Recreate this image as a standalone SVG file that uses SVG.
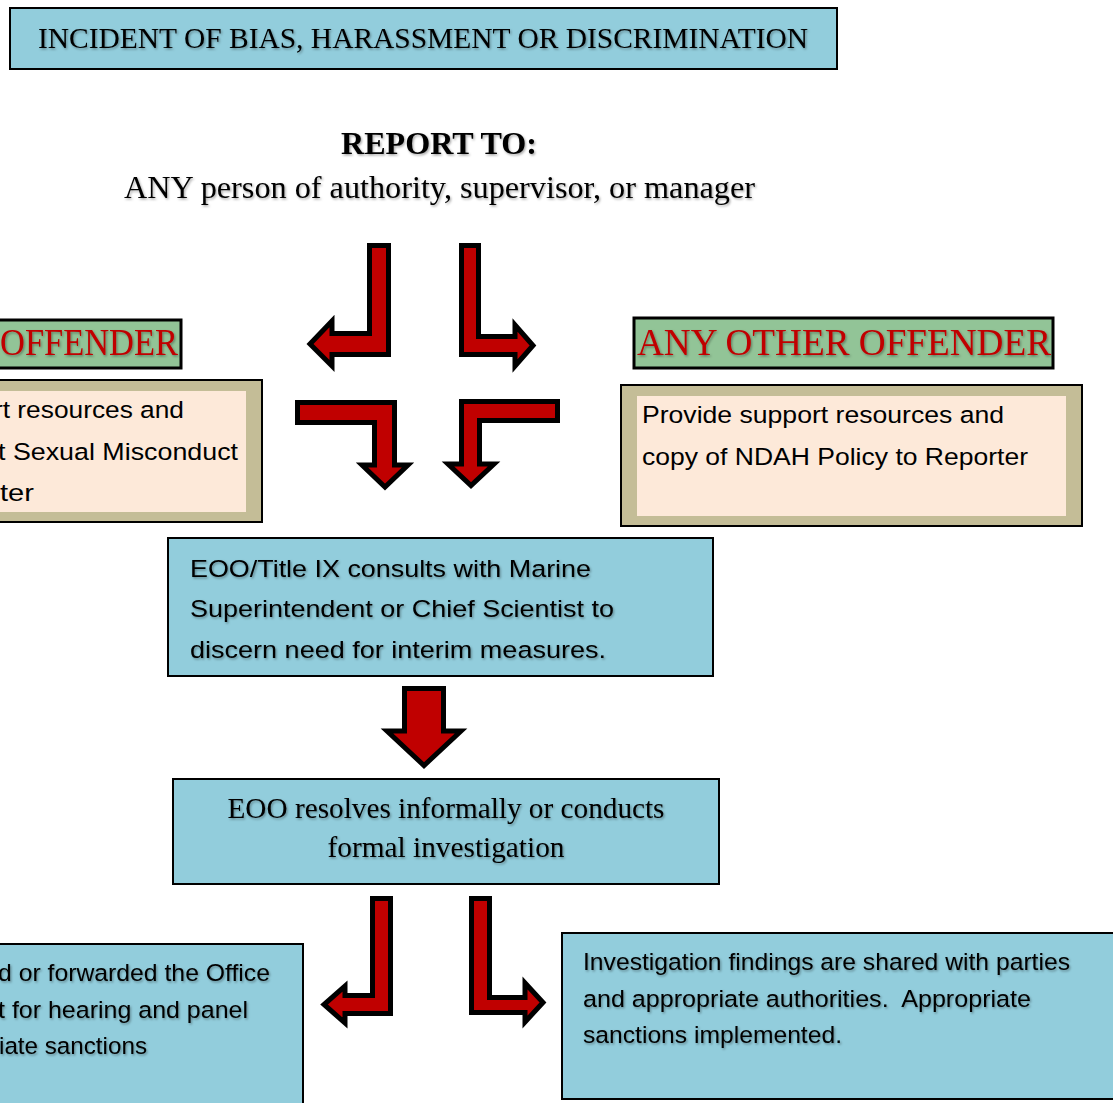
<svg xmlns="http://www.w3.org/2000/svg" width="1113" height="1103" viewBox="0 0 1113 1103">
<defs>
<filter id="ts" x="-5%" y="-20%" width="110%" height="140%">
<feDropShadow dx="1.2" dy="1.5" stdDeviation="1" flood-color="#000" flood-opacity="0.35"/>
</filter>
</defs>
<style>
.blue{fill:#92cddc;stroke:#000;stroke-width:2}
.green{fill:#92c497;stroke:#000;stroke-width:3}
.tan{fill:#c4bd97;stroke:#000;stroke-width:2}
.pink{fill:#fde9d9}
.arr{fill:#c00000;stroke:#000;stroke-width:5;stroke-linejoin:miter}
.serif{font-family:"Liberation Serif","Times New Roman",serif;fill:#000}
.sans{font-family:"Liberation Sans",Arial,sans-serif;font-size:24.5px;fill:#000}
.red{fill:#c00000;font-size:37px}
.sh{filter:url(#ts)}
</style>
<rect width="1113" height="1103" fill="#fff"/>

<g id="title">
<rect class="blue" x="10" y="8" width="827" height="61"/>
<text class="serif sh" x="423" y="48" font-size="29.5" text-anchor="middle" textLength="770" lengthAdjust="spacingAndGlyphs">INCIDENT OF BIAS, HARASSMENT OR DISCRIMINATION</text>
</g>

<g id="report">
<text class="serif sh" x="439" y="154" font-size="32" font-weight="bold" text-anchor="middle" textLength="196" lengthAdjust="spacingAndGlyphs">REPORT TO:</text>
<text class="serif sh" x="439.5" y="198" font-size="31.5" text-anchor="middle" textLength="631" lengthAdjust="spacingAndGlyphs">ANY person of authority, supervisor, or manager</text>
</g>

<g id="offender-left">
<rect class="green" x="-10" y="320" width="191" height="48"/>
<text class="serif red sh" x="178" y="355" text-anchor="end" textLength="178" lengthAdjust="spacingAndGlyphs">OFFENDER</text>
</g>

<g id="offender-other">
<rect class="green" x="634" y="318" width="419" height="50"/>
<text class="serif red sh" x="637" y="355" textLength="414" lengthAdjust="spacingAndGlyphs">ANY OTHER OFFENDER</text>
</g>

<g id="support-left">
<rect class="tan" x="-10" y="380" width="272" height="142"/>
<rect class="pink" x="-10" y="391" width="256" height="121"/>
<text class="sans" x="184" y="418" text-anchor="end" textLength="190" lengthAdjust="spacingAndGlyphs">rt resources and</text>
<text class="sans" x="238" y="460" text-anchor="end" textLength="240" lengthAdjust="spacingAndGlyphs">t Sexual Misconduct</text>
<text class="sans" x="34" y="501" text-anchor="end" textLength="34" lengthAdjust="spacingAndGlyphs">ter</text>
</g>

<g id="support-other">
<rect class="tan" x="621" y="385" width="461" height="141"/>
<rect class="pink" x="637" y="396" width="429" height="120"/>
<text class="sans" x="642" y="423" textLength="362" lengthAdjust="spacingAndGlyphs">Provide support resources and</text>
<text class="sans" x="642" y="465" textLength="386" lengthAdjust="spacingAndGlyphs">copy of NDAH Policy to Reporter</text>
</g>

<g id="consult">
<rect class="blue" x="168" y="538" width="545" height="138"/>
<text class="sans sh" x="190" y="577" textLength="401" lengthAdjust="spacingAndGlyphs">EOO/Title IX consults with Marine</text>
<text class="sans sh" x="190" y="617" textLength="424" lengthAdjust="spacingAndGlyphs">Superintendent or Chief Scientist to</text>
<text class="sans sh" x="190" y="658" textLength="416" lengthAdjust="spacingAndGlyphs">discern need for interim measures.</text>
</g>

<g id="resolve">
<rect class="blue" x="173" y="779" width="546" height="105"/>
<text class="serif sh" x="446" y="818" font-size="29" text-anchor="middle" textLength="437" lengthAdjust="spacingAndGlyphs">EOO resolves informally or conducts</text>
<text class="serif sh" x="446" y="857" font-size="29" text-anchor="middle" textLength="237" lengthAdjust="spacingAndGlyphs">formal investigation</text>
</g>

<g id="hearing">
<rect class="blue" x="-10" y="944" width="313" height="170"/>
<text class="sans sh" x="270" y="981" text-anchor="end" textLength="272" lengthAdjust="spacingAndGlyphs">d or forwarded the Office</text>
<text class="sans sh" x="248" y="1018" text-anchor="end" textLength="250" lengthAdjust="spacingAndGlyphs">t for hearing and panel</text>
<text class="sans sh" x="147" y="1054" text-anchor="end" textLength="148" lengthAdjust="spacingAndGlyphs">iate sanctions</text>
</g>

<g id="findings">
<rect class="blue" x="562" y="933" width="560" height="166"/>
<text class="sans sh" x="583" y="970" textLength="487" lengthAdjust="spacingAndGlyphs">Investigation findings are shared with parties</text>
<text class="sans sh" x="583" y="1007" textLength="448" lengthAdjust="spacingAndGlyphs" xml:space="preserve">and appropriate authorities.  Appropriate</text>
<text class="sans sh" x="583" y="1043" textLength="259" lengthAdjust="spacingAndGlyphs">sanctions implemented.</text>
</g>

<g id="connectors">
<path class="arr" d="M369.5,245.5 H388.5 V354.5 H332 V366 L310,344 L332,321 V333.5 H369.5 Z"/>
<path class="arr" d="M461.5,245.5 H478.5 V336.5 H515 V325 L533,345.5 L515,366 V354.5 H461.5 Z"/>
<path class="arr" d="M297.5,402.5 H394.5 V465 H408 L385,487 L362,465 H374.5 V422.5 H297.5 Z"/>
<path class="arr" d="M557.5,401.5 V420.5 H479.5 V464 H494 L471,485.5 L448,464 H461.5 V401.5 Z"/>
<path class="arr" d="M404.5,688.5 H443.5 V731 H461 L424,765.5 L387,731 H404.5 Z"/>
<path class="arr" d="M372.5,898.5 H390.5 V1013.5 H345 V1023 L324,1004.5 L345,986 V995.5 H372.5 Z"/>
<path class="arr" d="M471.5,898.5 H489.5 V997.5 H525 V983 L543,1002.5 L525,1022 V1012.5 H471.5 Z"/>
</g>
</svg>
